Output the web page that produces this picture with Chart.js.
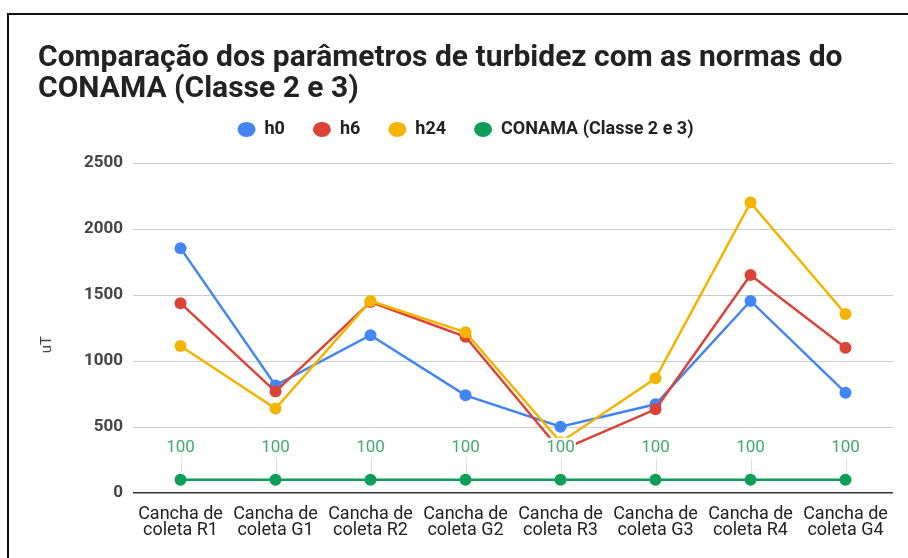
<!DOCTYPE html>
<html>
<head>
<meta charset="utf-8">
<script src="https://cdn.jsdelivr.net/npm/chart.js@4.4.1/dist/chart.umd.min.js"></script>
<style>
html,body{margin:0;padding:0;background:#fff;}
#wrap{position:relative;width:908px;height:558px;overflow:hidden;background:#fff;}
#frame{position:absolute;left:7px;top:13px;width:960px;height:600px;border-left:2px solid #111;border-top:2px solid #111;}
#c{position:absolute;left:0;top:0;}
</style>
</head>
<body>
<div id="wrap"><div id="frame"></div><canvas id="c" width="908" height="558"></canvas></div>
<script>
// ---- data ----
const categories = [
  ["Cancha de","coleta R1"],["Cancha de","coleta G1"],["Cancha de","coleta R2"],["Cancha de","coleta G2"],
  ["Cancha de","coleta R3"],["Cancha de","coleta G3"],["Cancha de","coleta R4"],["Cancha de","coleta G4"]
];
const seriesNames = ["h0","h6","h24","CONAMA (Classe 2 e 3)"];
const h0 = [1855, 815, 1195, 740, 502, 672, 1455, 760];
const h6 = [1438, 768, 1447, 1184, 322, 634, 1652, 1101];
const h24 = [1114, 640, 1455, 1218, 385, 869, 2200, 1356];
const conama = [100, 100, 100, 100, 100, 100, 100, 100];
const yTicks = [0, 500, 1000, 1500, 2000, 2500];
const titleLines = ["Comparação dos parâmetros de turbidez com as normas do", "CONAMA (Classe 2 e 3)"];
const yTitle = "uT";

const colors = ["#4285f4", "#db4437", "#f4b400", "#0f9d58"];
const FONT = 'Roboto, "Open Sans", sans-serif';
Chart.defaults.font.family = FONT;

const annotPlugin = {
  id: 'annot',
  afterDatasetsDraw(chart) {
    const meta = chart.getDatasetMeta(3);
    const c = chart.ctx;
    c.save();
    c.font = '17px ' + FONT;
    c.textAlign = 'center';
    c.textBaseline = 'middle';
    meta.data.forEach((pt, i) => {
      const txt = String(conama[i]);
      const cy = pt.y - 33;
      const w = c.measureText(txt).width;
      const xx = Math.round(pt.x) + 0.5;
      c.strokeStyle = '#e0e0e0';
      c.lineWidth = 1;
      c.beginPath(); c.moveTo(xx, cy + 11); c.lineTo(xx, pt.y - 6); c.stroke();
      c.fillStyle = '#fff';
      c.fillRect(pt.x - w / 2 - 1, cy - 9, w + 2, 20);
      c.fillStyle = '#44a874';
      c.fillText(txt, pt.x, cy + 1);
    });
    c.restore();
  }
};

const legendPad = {
  id: 'legendPad',
  beforeInit(chart) {
    const fit = chart.legend.fit;
    chart.legend.fit = function () { fit.call(this); this.height += 14.6; };
  }
};

const seriesData = [h0, h6, h24, conama];
const datasets = seriesNames.map((name, i) => ({
  label: name,
  data: seriesData[i],
  borderColor: colors[i],
  backgroundColor: colors[i],
  pointBackgroundColor: colors[i],
  pointBorderColor: colors[i],
  borderWidth: 2.5,
  pointRadius: 6,
  pointBorderWidth: 0,
  pointHoverRadius: 6,
  tension: 0,
  fill: false,
  order: 4 - i
}));

new Chart(document.getElementById('c'), {
  type: 'line',
  data: { labels: categories, datasets },
  options: {
    responsive: false,
    animation: false,
    devicePixelRatio: 1,
    layout: { padding: { left: 38, right: 15, top: 0, bottom: 0 } },
    plugins: {
      tooltip: { enabled: false },
      title: {
        display: true, text: titleLines, align: 'start', color: '#222',
        font: { size: 30, weight: 'bold', lineHeight: 1.04 },
        padding: { top: 43, bottom: -13 }
      },
      legend: {
        display: true, position: 'top', align: 'center',
        labels: {
          sort: (a, b) => a.datasetIndex - b.datasetIndex,
          usePointStyle: true, pointStyle: 'circle', pointStyleWidth: 18,
          boxWidth: 18, boxHeight: 10.6, padding: 28, color: '#222',
          font: { size: 18, weight: 'bold' }
        }
      }
    },
    scales: {
      x: {
        offset: true,
        grid: { display: false, drawTicks: false, offset: true },
        border: { display: false },
        ticks: { color: '#222', font: { size: 18, lineHeight: 0.9 }, padding: 13, maxRotation: 0, autoSkip: false },
        afterFit(s) { s.height = 65; }
      },
      y: {
        min: 0, max: 2500,
        afterBuildTicks(s) { s.ticks = yTicks.map(v => ({ value: v })); },
        ticks: { color: '#444', font: { size: 17, weight: 'bold' }, padding: 10, callback: v => String(v) },
        grid: {
          drawTicks: false,
          color: c => (c.tick && c.tick.value === 0) ? '#333' : '#cccccc',
          lineWidth: c => (c.tick && c.tick.value === 0) ? 1.5 : 1
        },
        border: { display: false },
        title: { display: true, text: yTitle + '         ', color: '#444', font: { size: 15 }, padding: 0 },
        afterFit(s) { s.width = 95; }
      }
    }
  },
  plugins: [annotPlugin, legendPad]
});
</script>
</body>
</html>
